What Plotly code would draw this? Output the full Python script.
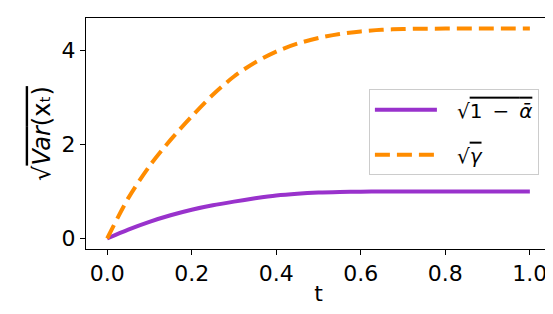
import plotly.graph_objects as go

t = [0.0, 0.05, 0.1, 0.15, 0.2, 0.25, 0.3, 0.35, 0.4, 0.45, 0.5,
     0.55, 0.6, 0.65, 0.7, 0.75, 0.8, 0.85, 0.9, 0.95, 1.0]
sqrt_one_minus_alpha_bar = [0.0, 0.19, 0.355, 0.495, 0.613, 0.708, 0.785, 0.855, 0.915, 0.953, 0.977,
                            0.99, 0.997, 1.0, 1.0, 1.0, 1.0, 1.0, 1.0, 1.0, 1.0]
sqrt_gamma = [0.0, 0.86, 1.54, 2.1, 2.6, 3.06, 3.45, 3.75, 3.98, 4.15, 4.27,
              4.355, 4.41, 4.445, 4.46, 4.468, 4.47, 4.472, 4.472, 4.472, 4.472]

x_ticks = [0.0, 0.2, 0.4, 0.6, 0.8, 1.0]
y_ticks = [0, 2, 4]

OL = "<span style='text-decoration:overline'>"
GAP = "\u2002\u2005"
name_purple = GAP + "√" + OL + "1\u2002−\u2002<i>ᾱ</i></span>"
name_orange = GAP + "√" + OL + "<i>γ</i></span>"
y_title = "√" + OL + "<i>Var</i>(xₜ)</span>"

FONT = "DejaVu Sans"

fig = go.Figure()
fig.add_trace(go.Scatter(
    x=t, y=sqrt_one_minus_alpha_bar, mode="lines", name=name_purple,
    line=dict(color="#9932CC", width=4, shape="spline", smoothing=0.8),
    legendgroup="a"))
fig.add_trace(go.Scatter(
    x=t, y=sqrt_gamma, mode="lines", name=name_orange,
    line=dict(color="#FF8C00", width=4, dash="15px,7px", shape="spline", smoothing=0.8),
    legendgroup="b"))

axis_common = dict(
    showline=True, linecolor="black", linewidth=1, mirror=True,
    ticks="outside", ticklen=5, tickwidth=1, tickcolor="black",
    showgrid=False, zeroline=False,
    tickfont=dict(family=FONT, size=22, color="black"),
)

fig.update_layout(
    width=553, height=314,
    margin=dict(l=78, r=10, t=10, b=73),
    paper_bgcolor="white", plot_bgcolor="white",
    font=dict(family=FONT, size=22, color="black"),
    xaxis=dict(range=[-0.05, 1.05], tickvals=x_ticks, tickformat=".1f",
               title=dict(text="t", font=dict(family=FONT, size=22), standoff=0),
               **axis_common),
    yaxis=dict(range=[-0.2236, 4.6956], tickvals=y_ticks,
               title=dict(text=y_title, font=dict(family=FONT, size=24), standoff=4),
               **axis_common),
    legend=dict(
        x=0.974, xanchor="right", y=0.505, yanchor="middle",
        bgcolor="rgba(255,255,255,0.8)", bordercolor="#cccccc", borderwidth=1,
        font=dict(family=FONT, size=20, color="black"),
        tracegroupgap=16, traceorder="grouped", itemwidth=62,
    ),
)

fig.write_html("out.html")
